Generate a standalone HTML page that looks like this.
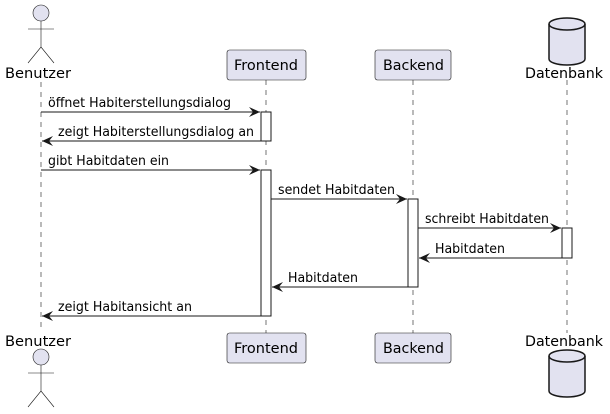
<!DOCTYPE html>
<html><head><meta charset="utf-8"><style>body{margin:0;background:#fff}svg{display:block}text{font-family:"DejaVu Sans","Liberation Sans",sans-serif}</style></head><body>
<svg width="610" height="414" viewBox="0 0 610 414" xmlns="http://www.w3.org/2000/svg">
<defs><marker id="a" markerWidth="12" markerHeight="10" refX="11" refY="5" orient="auto" markerUnits="userSpaceOnUse"><path d="M0,0 L11,5 L0,10 L4,5 Z" fill="#181818"/></marker></defs>
<g stroke="#181818" stroke-width="0.6" stroke-dasharray="5,5">
<line x1="41" y1="82" x2="41" y2="332"/><line x1="266" y1="80" x2="266" y2="333"/><line x1="413" y1="80" x2="413" y2="333"/><line x1="567" y1="80" x2="567" y2="333"/></g>
<g fill="#fff" stroke="#181818">
<rect x="261" y="112" width="10" height="29"/><rect x="261" y="170" width="10" height="146"/><rect x="408" y="199" width="10" height="88"/><rect x="562" y="228" width="10" height="30"/></g>
<g fill="#E2E2F0" stroke="#181818" stroke-width="0.6">
<rect x="227" y="50" width="79" height="30" rx="2.5"/><rect x="375" y="50" width="76" height="30" rx="2.5"/>
<rect x="227" y="333" width="79" height="30" rx="2.5"/><rect x="375" y="333" width="76" height="30" rx="2.5"/></g>
<g font-size="14" fill="#000">
<text x="234" y="70" textLength="64" lengthAdjust="spacingAndGlyphs">Frontend</text><text x="383" y="70" textLength="61" lengthAdjust="spacingAndGlyphs">Backend</text>
<text x="234" y="353" textLength="64" lengthAdjust="spacingAndGlyphs">Frontend</text><text x="383" y="353" textLength="61" lengthAdjust="spacingAndGlyphs">Backend</text>
<text x="5" y="78" textLength="66" lengthAdjust="spacingAndGlyphs">Benutzer</text><text x="5" y="346" textLength="66" lengthAdjust="spacingAndGlyphs">Benutzer</text>
<text x="525" y="78" textLength="78" lengthAdjust="spacingAndGlyphs">Datenbank</text><text x="525" y="346" textLength="78" lengthAdjust="spacingAndGlyphs">Datenbank</text></g>
<g fill="#E2E2F0" stroke="#181818" stroke-width="0.6">
<circle cx="41" cy="13" r="8"/><path d="M41,21 V47 M28,29 H54 M28,63 L41,47 L54,63" fill="none"/>
<circle cx="41" cy="357" r="8"/><path d="M41,365 V391 M28,373 H54 M28,407 L41,391 L54,407" fill="none"/></g>
<g fill="#E2E2F0" stroke="#181818" stroke-width="1.5">
<path d="M549,24 V59 A18,6 0 0 0 585,59 V24 A18,6 0 0 0 549,24 Z"/><path d="M549,24 A18,6 0 0 0 585,24" fill="none"/>
<path d="M549,356 V391 A18,6 0 0 0 585,391 V356 A18,6 0 0 0 549,356 Z"/><path d="M549,356 A18,6 0 0 0 585,356" fill="none"/></g>
<g stroke="#181818" marker-end="url(#a)">
<line x1="41" y1="112" x2="260" y2="112"/><line x1="261" y1="141" x2="42" y2="141"/>
<line x1="41" y1="170" x2="260" y2="170"/><line x1="271" y1="199" x2="407" y2="199"/>
<line x1="418" y1="228" x2="561" y2="228"/><line x1="562" y1="258" x2="419" y2="258"/>
<line x1="408" y1="287" x2="272" y2="287"/><line x1="261" y1="316" x2="42" y2="316"/></g>
<g font-size="13" fill="#000">
<text x="48" y="107" textLength="183" lengthAdjust="spacingAndGlyphs">öffnet Habiterstellungsdialog</text>
<text x="58" y="136" textLength="196" lengthAdjust="spacingAndGlyphs">zeigt Habiterstellungsdialog an</text>
<text x="48" y="165" textLength="121" lengthAdjust="spacingAndGlyphs">gibt Habitdaten ein</text>
<text x="278" y="194" textLength="117" lengthAdjust="spacingAndGlyphs">sendet Habitdaten</text>
<text x="425" y="223" textLength="124" lengthAdjust="spacingAndGlyphs">schreibt Habitdaten</text>
<text x="435" y="253" textLength="70" lengthAdjust="spacingAndGlyphs">Habitdaten</text>
<text x="288" y="282" textLength="70" lengthAdjust="spacingAndGlyphs">Habitdaten</text>
<text x="58" y="311" textLength="134" lengthAdjust="spacingAndGlyphs">zeigt Habitansicht an</text></g>
</svg>
</body></html>
